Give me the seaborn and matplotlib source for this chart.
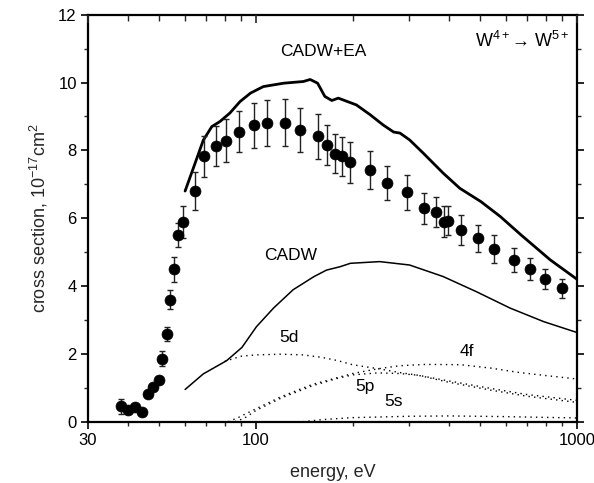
import numpy as np
import pandas as pd
import matplotlib
matplotlib.use("Agg")
import matplotlib.pyplot as plt
from matplotlib.ticker import FixedLocator, NullFormatter, FixedFormatter, MultipleLocator
import seaborn as sns

# Measured cross sections (energy in eV, sigma in 1e-17 cm^2)
exp_energy = [38.1, 40.0, 42.0, 44.1, 46.0, 47.9, 49.9, 51.1, 52.8, 54.1, 55.5, 57.3,
              59.3, 64.5, 69.1, 75.0, 80.7, 88.8, 98.5, 108, 123, 137.5, 156.4, 166,
              177, 186, 196.6, 226.8, 256, 295, 335, 364, 386, 398, 436, 493, 553,
              636, 715, 798, 898]
exp_sigma = [0.46, 0.35, 0.42, 0.30, 0.82, 1.03, 1.23, 1.85, 2.58, 3.59, 4.50, 5.51,
             5.90, 6.80, 7.82, 8.13, 8.29, 8.55, 8.74, 8.80, 8.82, 8.60, 8.41, 8.16,
             7.90, 7.82, 7.65, 7.42, 7.03, 6.76, 6.29, 6.18, 5.90, 5.93, 5.65, 5.41, 5.09,
             4.77, 4.50, 4.20, 3.93]
exp_err = [0.22, 0.10, 0.10, 0.08, 0.08, 0.08, 0.08, 0.22, 0.20, 0.28, 0.37, 0.35,
           0.47, 0.55, 0.60, 0.59, 0.62, 0.60, 0.66, 0.67, 0.70, 0.66, 0.67, 0.60,
           0.58, 0.58, 0.60, 0.55, 0.50, 0.52, 0.45, 0.45, 0.45, 0.42, 0.43, 0.40, 0.40,
           0.36, 0.33, 0.30, 0.27]

# CADW + excitation-autoionization total
ea_energy = [60.2, 64, 68.6, 72.9, 77.3, 83, 89.3, 96.3, 105.5, 122, 140.6, 147.6,
             155.7, 164, 172.4, 180.6, 205.6, 227, 249, 268.6, 281, 301, 332, 383,
             432, 502, 577, 669, 826, 1000]
ea_sigma = [6.8, 7.5, 8.3, 8.7, 8.85, 9.1, 9.44, 9.69, 9.88, 9.98, 10.03, 10.09,
            9.98, 9.59, 9.47, 9.54, 9.34, 9.05, 8.75, 8.54, 8.51, 8.31, 7.92, 7.33,
            6.88, 6.49, 6.05, 5.51, 4.77, 4.2]

# CADW direct ionization total
cadw_energy = [60.2, 68.6, 81.1, 90.5, 100.4, 113.5, 130.6, 151.8, 166, 183, 197,
               243, 301, 383, 487, 619, 788, 1000]
cadw_sigma = [0.95, 1.41, 1.80, 2.19, 2.80, 3.35, 3.89, 4.28, 4.47, 4.57, 4.67,
              4.72, 4.62, 4.28, 3.83, 3.35, 2.95, 2.63]

# Subshell contributions
d5_energy = [80, 90, 100, 120, 140, 160, 180, 200, 245, 280, 320, 400, 540, 700, 1000]
d5_sigma = [1.78, 1.93, 1.97, 1.99, 1.97, 1.90, 1.80, 1.68, 1.55, 1.45, 1.37, 1.20,
            0.98, 0.80, 0.63]

f4_energy = [82, 88, 100, 120, 150, 200, 240, 280, 340, 434, 540, 650, 800, 1000]
f4_sigma = [0.0, 0.12, 0.38, 0.74, 1.10, 1.42, 1.56, 1.65, 1.69, 1.68, 1.58, 1.46,
            1.36, 1.26]

p5_energy = [86, 92, 100, 120, 150, 180, 200, 240, 280, 320, 400, 540, 700, 1000]
p5_sigma = [0.0, 0.10, 0.33, 0.70, 1.06, 1.28, 1.38, 1.44, 1.42, 1.37, 1.16, 0.93,
            0.75, 0.57]

s5_energy = [140, 160, 200, 300, 400, 600, 1000]
s5_sigma = [0.0, 0.06, 0.12, 0.16, 0.17, 0.15, 0.11]

# Curve labels: (text, energy, sigma)
curve_labels = [("CADW+EA", 162, 10.9), ("CADW", 128.7, 4.89), ("5d", 126.5, 2.47),
                ("4f", 455, 2.07), ("5p", 218.8, 1.03), ("5s", 269, 0.59)]

sns.set_theme(style="ticks")
plt.rcParams["font.family"] = ["Liberation Sans", "DejaVu Sans"]
plt.rcParams["mathtext.fontset"] = "custom"
plt.rcParams["mathtext.rm"] = "Liberation Sans"
plt.rcParams["mathtext.it"] = "Liberation Sans:italic"

fig = plt.figure(figsize=(5.94, 4.83), dpi=100)
ax = fig.add_axes([0.1481, 0.1269, 0.8232, 0.8427])

dotted = (0, (1.0, 3.0))
for en, sg in [(d5_energy, d5_sigma), (f4_energy, f4_sigma),
               (p5_energy, p5_sigma), (s5_energy, s5_sigma)]:
    sns.lineplot(x=en, y=sg, ax=ax, color="black", linewidth=1.0,
                 linestyle=dotted, estimator=None, sort=False)

sns.lineplot(x=cadw_energy, y=cadw_sigma, ax=ax, color="black", linewidth=1.1,
             estimator=None, sort=False)
sns.lineplot(x=ea_energy, y=ea_sigma, ax=ax, color="black", linewidth=2.0,
             estimator=None, sort=False)

ax.errorbar(exp_energy, exp_sigma, yerr=exp_err, fmt="none", ecolor="#222222",
            elinewidth=1.0, capsize=2.2, capthick=1.0, zorder=3)
exp_df = pd.DataFrame({"energy": exp_energy, "sigma": exp_sigma})
sns.scatterplot(data=exp_df, x="energy", y="sigma", ax=ax, color="black", s=62,
                edgecolor="black", linewidth=0.5, zorder=4)

ax.set_xscale("log")
ax.set_xlim(30, 1000)
ax.set_ylim(0, 12)

ax.xaxis.set_major_locator(FixedLocator([30, 100, 1000]))
ax.xaxis.set_major_formatter(FixedFormatter(["30", "100", "1000"]))
ax.xaxis.set_minor_locator(FixedLocator([40, 50, 60, 70, 80, 90,
                                         200, 300, 400, 500, 600, 700, 800, 900]))
ax.xaxis.set_minor_formatter(NullFormatter())
ax.yaxis.set_major_locator(MultipleLocator(2))
ax.yaxis.set_minor_locator(MultipleLocator(1))

ax.tick_params(axis="both", which="major", direction="out", length=5, width=1.2,
               labelsize=12, colors="black", pad=3)
ax.tick_params(axis="both", which="minor", direction="out", length=3, width=1.0)
ax.tick_params(axis="y", which="both", right=True, left=True)

for sp in ax.spines.values():
    sp.set_linewidth(1.6)
    sp.set_color("black")
    sp.set_visible(True)

# Top axis with inward ticks
top = ax.twiny()
top.set_xscale("log")
top.set_xlim(30, 1000)
top.xaxis.set_major_locator(FixedLocator([30, 100, 1000]))
top.xaxis.set_minor_locator(FixedLocator([40, 50, 60, 70, 80, 90,
                                          200, 300, 400, 500, 600, 700, 800, 900]))
top.xaxis.set_major_formatter(NullFormatter())
top.xaxis.set_minor_formatter(NullFormatter())
top.tick_params(axis="x", which="major", direction="in", length=6, width=1.2)
top.tick_params(axis="x", which="minor", direction="in", length=4, width=1.0)
for sp in top.spines.values():
    sp.set_visible(False)

ax.set_xlabel("energy, eV", fontsize=13, labelpad=12)
ax.set_ylabel("cross section, 10$^{-17}$cm$^{2}$", fontsize=13, labelpad=6)

for txt, ex, sy in curve_labels:
    ax.text(ex, sy, txt, fontsize=12.5, ha="center", va="center", color="black")

ax.text(0.985, 0.935, "W$^{4+}$\u2192 W$^{5+}$", transform=ax.transAxes,
        fontsize=13, ha="right", va="center", color="black")

fig.savefig("out.png", dpi=100)
